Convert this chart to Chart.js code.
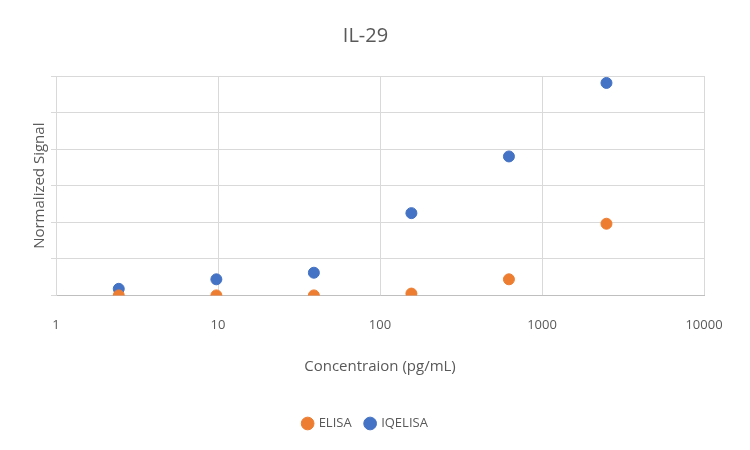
<!DOCTYPE html>
<html><head><meta charset="utf-8">
<script src="https://cdn.jsdelivr.net/npm/chart.js@4"></script>
<style>body{margin:0;background:#fff}#w{width:750px;height:450px}</style>
</head><body><div id="w"><canvas id="c"></canvas></div>
<script>
const concentrations=[2.44,9.77,39.06,156.25,625,2500];
const elisa=[0,0,0,0.05,0.44,1.96];
const iqelisa=[0.18,0.44,0.62,2.25,3.8,5.81];
const xTicks=[1,10,100,1000,10000];
const toPts=v=>concentrations.map((x,i)=>({x,y:v[i]}));
const font="'Open Sans', 'Liberation Sans', sans-serif";
new Chart(document.getElementById('c'),{
type:'scatter',
data:{datasets:[
{label:'ELISA',data:toPts(elisa),backgroundColor:'#ED7D31',borderColor:'#ED7D31',pointRadius:5.5},
{label:'IQELISA',data:toPts(iqelisa),backgroundColor:'#4472C4',borderColor:'#4472C4',pointRadius:5.5}]},
options:{responsive:true,maintainAspectRatio:false,animation:false,
layout:{padding:{left:27,right:46,top:10,bottom:10}},
plugins:{title:{display:true,text:'IL-29',color:'#595959',font:{family:font,size:20,weight:'normal'},padding:{top:14,bottom:28}},
legend:{position:'bottom',labels:{usePointStyle:true,pointStyle:'circle',boxWidth:9,boxHeight:9,color:'#595959',font:{family:font,size:13},padding:14}},
tooltip:{enabled:false}},
scales:{
x:{type:'logarithmic',min:1,max:10000,
afterBuildTicks:s=>{s.ticks=xTicks.map(v=>({value:v}));},
ticks:{color:'#595959',font:{family:font,size:13},callback:v=>String(v),padding:22},
grid:{color:'#d9d9d9',drawTicks:false},border:{color:'#bfbfbf'},
title:{display:true,text:'Concentraion (pg/mL)',color:'#595959',font:{family:font,size:15},padding:{top:3,bottom:27}}},
y:{min:0,max:6,ticks:{stepSize:1,display:false},
grid:{color:'#d9d9d9',tickLength:5},border:{color:'#d9d9d9'},
title:{display:true,text:'Normalized Signal',color:'#595959',font:{family:font,size:15},padding:{bottom:2}}}
}}});
</script></body></html>
